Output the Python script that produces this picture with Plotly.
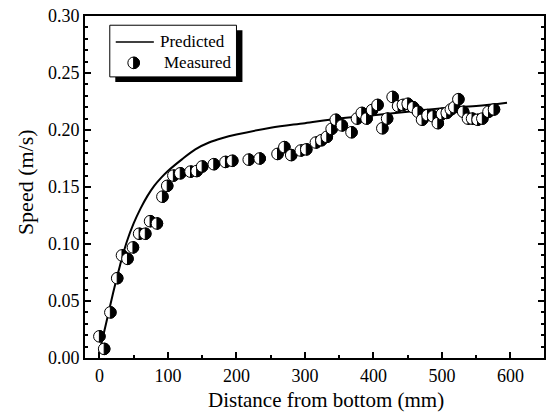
import plotly.graph_objects as go

# Measured data (distance from bottom in mm, speed in m/s)
meas_x = [0, 7, 16, 26, 33, 41, 49, 58, 67, 74, 84, 92, 99, 108, 118, 133, 142, 150,
          167, 184, 194, 218, 234, 260, 270, 280, 294, 302, 316, 324, 332, 339, 345,
          354, 368, 376, 383, 390, 398, 406, 413, 420, 428, 436, 443, 450, 458, 465,
          471, 479, 487, 494, 500, 507, 513, 518, 524, 531, 538, 544, 552, 559, 568, 576]
meas_y = [0.019, 0.008, 0.040, 0.070, 0.090, 0.087, 0.097, 0.109, 0.109, 0.120, 0.118,
          0.1415, 0.151, 0.160, 0.162, 0.1635, 0.164, 0.168, 0.170, 0.172, 0.173, 0.174,
          0.175, 0.179, 0.185, 0.178, 0.182, 0.183, 0.189, 0.191, 0.194, 0.201, 0.209,
          0.204, 0.198, 0.210, 0.215, 0.210, 0.2175, 0.222, 0.2015, 0.210, 0.229, 0.221,
          0.222, 0.223, 0.220, 0.216, 0.209, 0.213, 0.212, 0.206, 0.214, 0.215, 0.218,
          0.220, 0.227, 0.216, 0.210, 0.210, 0.209, 0.210, 0.216, 0.218]

# Predicted curve
pred_x = [0, 10, 20, 30, 40, 50, 60, 70, 80, 90, 100, 120, 140, 160, 180, 200,
          250, 300, 350, 400, 450, 500, 550, 595]
pred_y = [0.005, 0.031, 0.057, 0.081, 0.102, 0.118, 0.131, 0.142, 0.151, 0.158, 0.164,
          0.174, 0.183, 0.189, 0.193, 0.196, 0.202, 0.206, 0.210, 0.213, 0.216, 0.219,
          0.221, 0.224]

x_title = "Distance from bottom (mm)"
y_title = "Speed (m/s)"

FONT = "Liberation Serif, Times New Roman, serif"
R = 5.8  # marker radius in pixels
K = 0.5523 * R
# right half of a circle, as two cubic Bezier segments (pixel coords relative to anchor)
HALF = (f"M 0,{-R} C {K:.3f},{-R} {R},{-K:.3f} {R},0 "
        f"C {R},{K:.3f} {K:.3f},{R} 0,{R} Z")


def half_marker(xref, yref, xa, ya):
    base = dict(xref=xref, yref=yref, xsizemode="pixel", ysizemode="pixel",
                xanchor=xa, yanchor=ya, layer="above")
    circ = dict(type="circle", x0=-R, x1=R, y0=-R, y1=R, fillcolor="white",
                line=dict(color="black", width=1), **base)
    half = dict(type="path", path=HALF, fillcolor="black", line=dict(color="black", width=1), **base)
    return [circ, half]


fig = go.Figure()
fig.add_trace(go.Scatter(x=pred_x, y=pred_y, mode="lines",
                         line=dict(color="black", width=2, shape="spline"),
                         showlegend=False, hoverinfo="skip"))
fig.add_trace(go.Scatter(x=meas_x, y=meas_y, mode="markers",
                         marker=dict(size=1, color="rgba(0,0,0,0)"),
                         showlegend=False, hoverinfo="x+y"))

axis_common = dict(showline=True, linecolor="black", linewidth=2, showgrid=False, zeroline=False,
                   ticks="inside", tickcolor="black", tickwidth=1.5, ticklen=6,
                   tickfont=dict(family=FONT, size=18, color="black"))

fig.update_xaxes(range=[-21, 649], dtick=100, tick0=0, mirror=True,
                 minor=dict(dtick=50, ticks="inside", ticklen=3, tickcolor="black", tickwidth=1.5),
                 **axis_common)
fig.update_yaxes(range=[0, 0.30], dtick=0.05, tick0=0, tickformat=".2f", mirror="ticks",
                 minor=dict(dtick=0.01, ticks="inside", ticklen=3, tickcolor="black", tickwidth=1.5),
                 **axis_common)

shapes = []
for xv, yv in zip(meas_x, meas_y):
    shapes += half_marker("x", "y", xv, yv)

# Legend box with shadow (manual)
shapes += [
    dict(type="rect", xref="paper", yref="paper", x0=0.066, x1=0.343, y0=0.807, y1=0.958,
         fillcolor="black", line=dict(width=0), layer="above"),
    dict(type="rect", xref="paper", yref="paper", x0=0.054, x1=0.330, y0=0.822, y1=0.973,
         fillcolor="white", line=dict(color="black", width=1), layer="above"),
    dict(type="line", xref="paper", yref="paper", x0=0.067, x1=0.150, y0=0.924, y1=0.924,
         line=dict(color="black", width=1.5), layer="above"),
]
shapes += half_marker("paper", "paper", 0.106, 0.863)

annotations = [
    dict(xref="paper", yref="paper", x=0.160, y=0.924, text="Predicted", showarrow=False,
         xanchor="left", yanchor="middle", font=dict(family=FONT, size=17, color="black")),
    dict(xref="paper", yref="paper", x=0.167, y=0.863, text="Measured", showarrow=False,
         xanchor="left", yanchor="middle", font=dict(family=FONT, size=17, color="black")),
    dict(xref="paper", yref="paper", x=0.525, y=-0.124, text=x_title, showarrow=False,
         xanchor="center", yanchor="middle", font=dict(family=FONT, size=21, color="black")),
    dict(xref="paper", yref="paper", x=-0.128, y=0.515, text=y_title, showarrow=False, textangle=-90,
         xanchor="center", yanchor="middle", font=dict(family=FONT, size=22, color="black")),
]

fig.update_layout(width=550, height=414, margin=dict(l=85, r=4, t=16, b=56),
                  paper_bgcolor="white", plot_bgcolor="white",
                  shapes=shapes, annotations=annotations, showlegend=False)

fig.write_html("out.html")
